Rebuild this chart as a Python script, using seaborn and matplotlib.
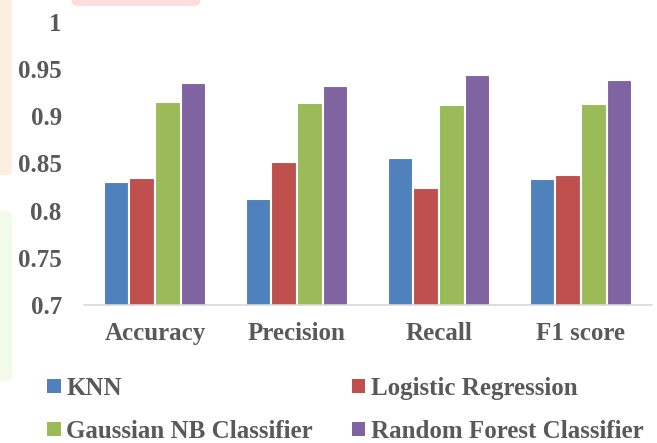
import matplotlib
matplotlib.use("Agg")
import matplotlib.pyplot as plt
from matplotlib.patches import Patch, FancyBboxPatch
import seaborn as sns
import pandas as pd

metrics = ["Accuracy", "Precision", "Recall", "F1 score"]
models = ["KNN", "Logistic Regression", "Gaussian NB Classifier", "Random Forest Classifier"]
knn = [0.830, 0.812, 0.856, 0.834]
logreg = [0.835, 0.852, 0.824, 0.838]
gnb = [0.915, 0.914, 0.912, 0.913]
rf = [0.935, 0.932, 0.944, 0.938]
colors = ["#4F81BD", "#C0504D", "#9BBB59", "#8064A2"]

rows = []
for model, vals in zip(models, [knn, logreg, gnb, rf]):
    for m, v in zip(metrics, vals):
        rows.append({"metric": m, "model": model, "score": v})
df = pd.DataFrame(rows)

sns.set_style("white")
plt.rcParams["font.family"] = ["Liberation Serif", "DejaVu Serif"]
plt.rcParams["font.weight"] = "bold"
text_color = "#595959"
W, H = 657, 443

fig = plt.figure(figsize=(6.57, 4.43), dpi=100)

# faint watermark shapes behind the chart
for (x0, y0, w, h, c) in [(-10, 268, 22, 190, "#FDEEE2"),
                          (-10, 62, 22, 170, "#F2FAEA"),
                          (72, 437, 128, 12, "#FFDCDC")]:
    fig.patches.append(FancyBboxPatch((x0 / W, y0 / H), w / W, h / H,
                                      boxstyle="round,pad=0,rounding_size=0.01",
                                      transform=fig.transFigure, facecolor=c,
                                      edgecolor="none", zorder=0))

ax = fig.add_axes([84 / W, 1 - 305 / H, 568 / W, 283 / H])
ax.patch.set_alpha(0)

sns.barplot(data=df, x="metric", y="score", hue="model", hue_order=models,
            palette=colors, width=0.72, edgecolor="white", linewidth=1.5,
            saturation=1, ax=ax, legend=False)

ax.set_ylim(0.7, 1.0)
ax.set_xlim(-0.5, 3.5)
ax.set_yticks([0.7, 0.75, 0.8, 0.85, 0.9, 0.95, 1.0])
ax.set_yticklabels(["0.7", "0.75", "0.8", "0.85", "0.9", "0.95", "1"])
ax.set_xlabel("")
ax.set_ylabel("")
ax.tick_params(axis="both", length=0, labelsize=18, colors=text_color)
ax.tick_params(axis="y", pad=16)
ax.tick_params(axis="x", pad=12)
for lab in ax.get_xticklabels() + ax.get_yticklabels():
    lab.set_fontweight("bold")
for side in ["left", "right", "top"]:
    ax.spines[side].set_visible(False)
ax.spines["bottom"].set_color("#D9D9D9")
ax.spines["bottom"].set_linewidth(1.2)

# legend: rows KNN / LR, then GNB / RF
order = [0, 2, 1, 3]
handles = [Patch(facecolor=colors[i], edgecolor="none") for i in order]
labels = [models[i] for i in order]
leg = fig.legend(handles, labels, ncol=2, loc="upper left",
                 bbox_to_anchor=(47 / W, 1 - 377 / H), frameon=False,
                 borderpad=0, borderaxespad=0,
                 handlelength=0.55, handleheight=0.5, handletextpad=0.22,
                 columnspacing=1.55, labelspacing=0.8,
                 prop={"family": "Liberation Serif", "weight": "bold", "size": 18})
for t in leg.get_texts():
    t.set_color(text_color)

fig.savefig("out.png", dpi=100)
